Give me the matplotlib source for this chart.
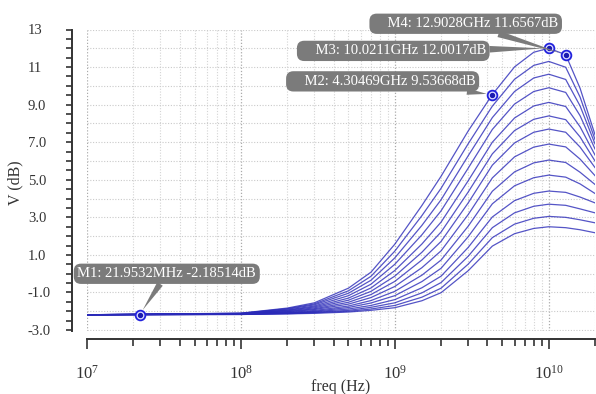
import matplotlib
matplotlib.use('Agg')
import matplotlib.pyplot as plt
from matplotlib.ticker import FixedLocator, MultipleLocator, LogLocator, FuncFormatter, NullFormatter

serif = 'Liberation Serif'
plt.rcParams['font.family'] = [serif, 'DejaVu Serif']
plt.rcParams['mathtext.fontset'] = 'custom'
plt.rcParams['mathtext.rm'] = serif
plt.rcParams['mathtext.it'] = serif + ':italic'

# sample frequencies (Hz)
freq = [1e7, 1e8, 2e8, 3e8, 5e8, 7e8, 1e9, 1.5e9, 2e9, 3e9, 4.30469e9,
        6e9, 8e9, 1.00211e10, 1.29028e10, 1.6e10, 2e10]

# V (dB) of each sweep curve (top to bottom)
c0 = [-2.185, -2.10, -1.83, -1.55, -0.77, 0.08, 1.57, 3.63, 5.19, 7.60, 9.537, 11.01, 11.79, 12.002, 11.657, 9.87, 7.40]
c1 = [-2.185, -2.11, -1.86, -1.61, -0.91, -0.14, 1.20, 3.09, 4.55, 6.92, 8.92, 10.35, 11.09, 11.30, 10.99, 9.40, 7.15]
c2 = [-2.185, -2.11, -1.89, -1.66, -1.04, -0.35, 0.84, 2.57, 3.94, 6.28, 8.31, 9.70, 10.42, 10.62, 10.34, 8.93, 6.91]
c3 = [-2.185, -2.12, -1.93, -1.72, -1.17, -0.56, 0.50, 2.07, 3.35, 5.62, 7.68, 9.03, 9.70, 9.90, 9.65, 8.41, 6.64]
c4 = [-2.185, -2.13, -1.95, -1.77, -1.30, -0.76, 0.17, 1.58, 2.75, 4.95, 7.00, 8.29, 8.93, 9.12, 8.90, 7.82, 6.32]
c5 = [-2.185, -2.13, -1.98, -1.82, -1.41, -0.94, -0.13, 1.14, 2.22, 4.35, 6.38, 7.62, 8.22, 8.40, 8.20, 7.28, 6.00]
c6 = [-2.185, -2.14, -2.01, -1.87, -1.52, -1.11, -0.41, 0.73, 1.72, 3.77, 5.78, 6.96, 7.53, 7.70, 7.53, 6.74, 5.65]
c7 = [-2.185, -2.15, -2.03, -1.91, -1.62, -1.27, -0.68, 0.32, 1.22, 3.15, 5.10, 6.22, 6.74, 6.90, 6.75, 6.10, 5.22]
c8 = [-2.185, -2.15, -2.06, -1.96, -1.72, -1.43, -0.94, -0.08, 0.73, 2.53, 4.39, 5.42, 5.90, 6.05, 5.92, 5.40, 4.75]
c9 = [-2.185, -2.16, -2.08, -2.00, -1.80, -1.56, -1.17, -0.42, 0.29, 1.97, 3.72, 4.68, 5.11, 5.25, 5.14, 4.78, 4.27]
c10 = [-2.185, -2.16, -2.10, -2.03, -1.88, -1.69, -1.38, -0.75, -0.13, 1.40, 3.02, 3.89, 4.28, 4.40, 4.33, 4.08, 3.77]
c11 = [-2.185, -2.16, -2.11, -2.06, -1.95, -1.79, -1.55, -1.02, -0.47, 0.93, 2.45, 3.24, 3.59, 3.70, 3.64, 3.45, 3.24]
c12 = [-2.185, -2.17, -2.13, -2.08, -2.00, -1.88, -1.69, -1.25, -0.77, 0.51, 1.92, 2.64, 2.95, 3.05, 3.00, 2.87, 2.71]
c13 = [-2.185, -2.17, -2.14, -2.11, -2.04, -1.95, -1.81, -1.44, -1.01, 0.16, 1.47, 2.13, 2.41, 2.50, 2.45, 2.34, 2.18]
curves = [c0, c1, c2, c3, c4, c5, c6, c7, c8, c9, c10, c11, c12, c13]

# markers
mk_freq = [21.9532e6, 4.30469e9, 10.0211e9, 12.9028e9]
mk_val = [-2.18514, 9.53668, 12.0017, 11.6567]
mk_text = ['M1: 21.9532MHz -2.18514dB', '    M2: 4.30469GHz 9.53668dB',
           '    M3: 10.0211GHz 12.0017dB', '    M4: 12.9028GHz 11.6567dB']
mk_offset = [(19.6, 29.5), (-79, 9.5), (-112, -1.9), (-72, 22.3)]  # label centre, points

ink = '#333333'

fig = plt.figure(figsize=(5.96, 3.94), dpi=100)
ax = fig.add_axes([87 / 596, 1 - 331 / 394, (595 - 87) / 596, (331 - 29.5) / 394])

for c in curves:
    ax.plot(freq, c, color='#2a2ab8', alpha=0.8, lw=0.9)

ax.set_xscale('log')
ax.set_xlim(1e7, 2e10)
ax.set_ylim(-3.05, 13.0)

# spines detached from the plotting area
for s in ['top', 'right']:
    ax.spines[s].set_visible(False)
ax.spines['left'].set_position(('outward', 10.8))
ax.spines['bottom'].set_position(('outward', 6.1))
for s in ['left', 'bottom']:
    ax.spines[s].set_color(ink)
    ax.spines[s].set_linewidth(1.4)

# y ticks: every 1 dB, labels on odd values
ax.yaxis.set_major_locator(FixedLocator(list(range(-3, 14))))
ax.yaxis.set_minor_locator(MultipleLocator(0.5))


def yfmt(v, pos):
    v = int(round(v))
    if v % 2 == 0:
        return ''
    if abs(v) >= 10:
        return '%d' % v
    return '%.1f' % v


ax.yaxis.set_major_formatter(FuncFormatter(yfmt))
ax.tick_params(axis='y', which='both', direction='out', length=4.3, width=1.2,
               color=ink, labelcolor=ink, labelsize=10.5, pad=27.4)
plt.setp(ax.get_yticklabels(), ha='left')

ax.xaxis.set_major_locator(LogLocator(base=10, numticks=10))
ax.xaxis.set_minor_locator(LogLocator(base=10, subs=range(2, 10), numticks=20))
ax.xaxis.set_minor_formatter(NullFormatter())
ax.tick_params(axis='x', which='major', direction='out', length=7.2, width=1.2,
               color=ink, labelcolor=ink, labelsize=12, pad=11)
ax.tick_params(axis='x', which='minor', direction='out', length=5, width=1.2, color=ink)

# dotted grid
ax.grid(True, which='major', axis='y', ls=(0, (1, 1.5)), color='#cacaca', lw=0.8)
ax.grid(True, which='minor', axis='x', ls=(0, (1, 1.5)), color='#d4d4d4', lw=0.8)
ax.grid(True, which='major', axis='x', ls=(0, (1, 1.5)), color='#ababab', lw=0.9)
ax.set_axisbelow(True)

# markers and their labels
ax.plot(mk_freq, mk_val, 'o', ms=7, mfc='#d8d8ff', mec='#2222dd', mew=1.3, zorder=5)
ax.plot(mk_freq, mk_val, 'o', ms=2.8, color='#1a1ab0', zorder=6)
for f, v, t, off in zip(mk_freq, mk_val, mk_text, mk_offset):
    ax.annotate(t, xy=(f, v), xytext=off, textcoords='offset points',
                ha='center', va='center', fontsize=10.5, color='white',
                bbox=dict(boxstyle='round,pad=0.25,rounding_size=0.5', fc='#7b7b7b', ec='none'),
                arrowprops=dict(arrowstyle='wedge,tail_width=0.45,shrink_factor=0.5',
                                fc='#7b7b7b', ec='none', shrinkA=0, shrinkB=4),
                zorder=7)

fig.text(341 / 596, 1 - 387 / 394, 'freq (Hz)', ha='center', va='center',
         fontsize=11.5, color=ink)
fig.text(15 / 596, 1 - 183 / 394, 'V (dB)', ha='center', va='center', rotation=90,
         fontsize=11.5, color=ink)

fig.savefig('out.png', dpi=100, facecolor='white')
